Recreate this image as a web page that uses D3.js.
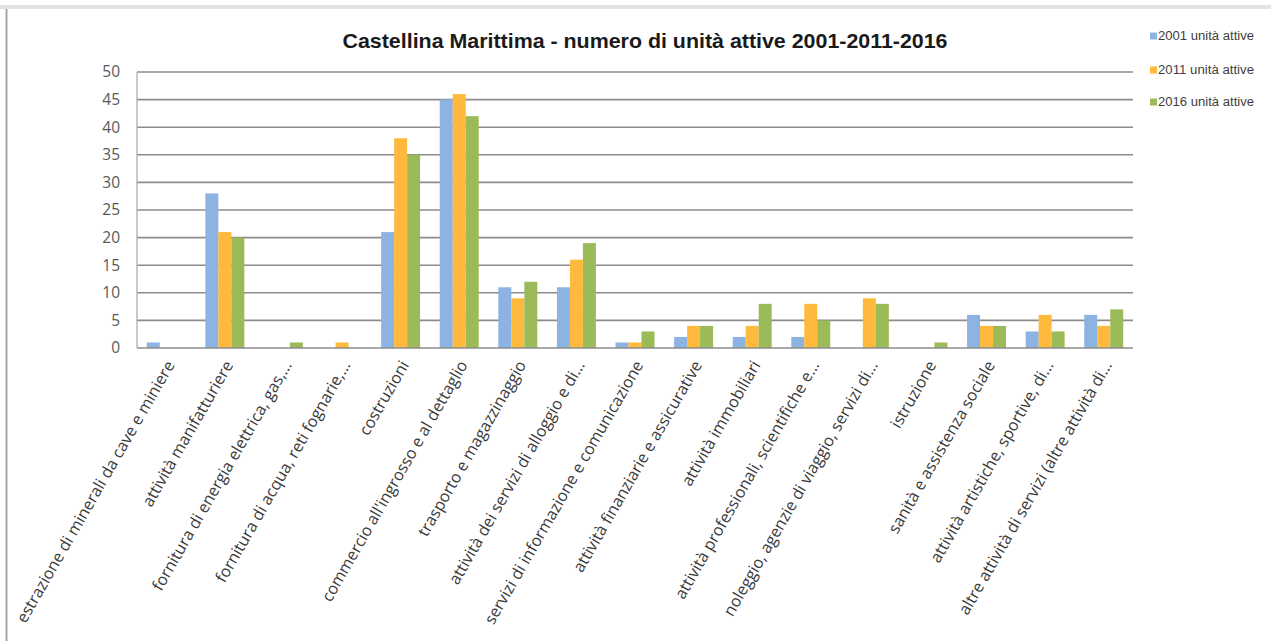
<!DOCTYPE html>
<html>
<head>
<meta charset="utf-8">
<script src="https://cdn.jsdelivr.net/npm/d3@7/dist/d3.min.js"></script>
<style>
  html, body { margin: 0; padding: 0; background: #fff; }
  svg { display: block; }
</style>
</head>
<body>
<svg id="chart" width="1271" height="641"></svg>
<script>
// Categories (economic sectors) and active units per census year
const categories = [
  "estrazione di minerali da cave e miniere",
  "attività manifatturiere",
  "fornitura di energia elettrica, gas,…",
  "fornitura di acqua, reti fognarie,…",
  "costruzioni",
  "commercio all'ingrosso e al dettaglio",
  "trasporto e magazzinaggio",
  "attività dei servizi di alloggio e di…",
  "servizi di informazione e comunicazione",
  "attività finanziarie e assicurative",
  "attività immobiliari",
  "attività professionali, scientifiche e…",
  "noleggio, agenzie di viaggio, servizi di…",
  "istruzione",
  "sanità e assistenza sociale",
  "attività artistiche, sportive, di…",
  "altre attività di servizi (altre attività di…"
];
const units2001 = [1, 28, 0, 0, 21, 45, 11, 11, 1, 2, 2, 2, 0, 0, 6, 3, 6];
const units2011 = [0, 21, 0, 1, 38, 46, 9, 16, 1, 4, 4, 8, 9, 0, 4, 6, 4];
const units2016 = [0, 20, 1, 0, 35, 42, 12, 19, 3, 4, 8, 5, 8, 1, 4, 3, 7];
const seriesNames = ["2001 unità attive", "2011 unità attive", "2016 unità attive"];
const yTicks = [0, 5, 10, 15, 20, 25, 30, 35, 40, 45, 50];
const titleText = "Castellina Marittima - numero di unità attive 2001-2011-2016";

const seriesValues = [units2001, units2011, units2016];
const colors = ["#8db3e2", "#ffb93c", "#9bbb59"];

const svg = d3.select("#chart");

// outer frame
svg.append("rect").attr("x", 0).attr("y", 5).attr("width", 1271).attr("height", 4).attr("fill", "#e2e2e2");
svg.append("line").attr("x1", 6.5).attr("x2", 6.5).attr("y1", 9).attr("y2", 641)
  .attr("stroke", "#a6a6a6").attr("stroke-width", 2);

const plot = { left: 137, right: 1133, top: 72, bottom: 348 };

const x0 = d3.scaleBand().domain(d3.range(categories.length))
  .range([plot.left, plot.right]).paddingInner(0.335).paddingOuter(0.167);
const x1 = d3.scaleBand().domain(d3.range(seriesValues.length))
  .range([0, x0.bandwidth()]);
const y = d3.scaleLinear().domain([0, 50]).range([plot.bottom, plot.top]);

// horizontal gridlines
svg.append("g").selectAll("line").data(yTicks.filter(t => t > 0)).join("line")
  .attr("x1", plot.left).attr("x2", plot.right)
  .attr("y1", d => y(d)).attr("y2", d => y(d))
  .attr("stroke", "#8c8c8c").attr("stroke-width", 1.6);

// y axis labels
const yAxis = d3.axisLeft(y).tickValues(yTicks).tickSize(0).tickPadding(17);
const gy = svg.append("g").attr("transform", `translate(${plot.left},0)`).call(yAxis);
gy.select(".domain").remove();
gy.selectAll("text").attr("font-family", "'Open Sans', sans-serif").attr("font-size", 15.5)
  .attr("fill", "#595959");

// bars
const groups = svg.append("g").selectAll("g").data(categories).join("g")
  .attr("transform", (d, i) => `translate(${x0(i)},0)`);
groups.selectAll("rect")
  .data((d, i) => seriesValues.map((s, k) => ({ k, v: s[i] })))
  .join("rect")
  .attr("x", d => x1(d.k))
  .attr("width", x1.bandwidth())
  .attr("y", d => y(d.v))
  .attr("height", d => y(0) - y(d.v))
  .attr("fill", d => colors[d.k]);

// axes lines
svg.append("line").attr("x1", plot.left).attr("x2", plot.right)
  .attr("y1", plot.bottom).attr("y2", plot.bottom)
  .attr("stroke", "#8c8c8c").attr("stroke-width", 1.6);
svg.append("line").attr("x1", plot.left).attr("x2", plot.left)
  .attr("y1", plot.top).attr("y2", plot.bottom)
  .attr("stroke", "#a6a6a6").attr("stroke-width", 1.2);

// category labels, rotated
const xAxis = d3.axisBottom(x0).tickSize(0).tickFormat(i => categories[i]);
const gx = svg.append("g").attr("transform", `translate(0,${plot.bottom})`).call(xAxis);
gx.select(".domain").remove();
gx.selectAll("text")
  .attr("font-family", "'Open Sans', sans-serif").attr("font-size", 16.2)
  .attr("fill", "#3a3a3a")
  .attr("text-anchor", "end")
  .attr("y", 0).attr("dy", "0.35em")
  .attr("transform", "translate(4,14) rotate(-60)");

// title
svg.append("text").attr("x", 645).attr("y", 48)
  .attr("text-anchor", "middle")
  .attr("font-family", "'Liberation Sans Narrow', 'Liberation Sans', Arial, sans-serif")
  .attr("font-weight", "bold").attr("font-size", 21).attr("fill", "#1a1a1a")
  .attr("textLength", 605).attr("lengthAdjust", "spacingAndGlyphs")
  .text(titleText);

// legend
const legend = svg.append("g").selectAll("g").data(seriesNames).join("g")
  .attr("transform", (d, i) => `translate(1150,${[36, 70, 102][i]})`);
legend.append("rect").attr("x", 0).attr("y", -3.5).attr("width", 7).attr("height", 7)
  .attr("fill", (d, i) => colors[i]);
legend.append("text").attr("x", 8).attr("y", 0).attr("dy", "0.35em")
  .attr("font-family", "'Liberation Sans Narrow', 'Liberation Sans', Arial, sans-serif")
  .attr("font-size", 12.5).attr("fill", "#404040")
  .attr("textLength", 96).attr("lengthAdjust", "spacingAndGlyphs")
  .text(d => d);
</script>
</body>
</html>
